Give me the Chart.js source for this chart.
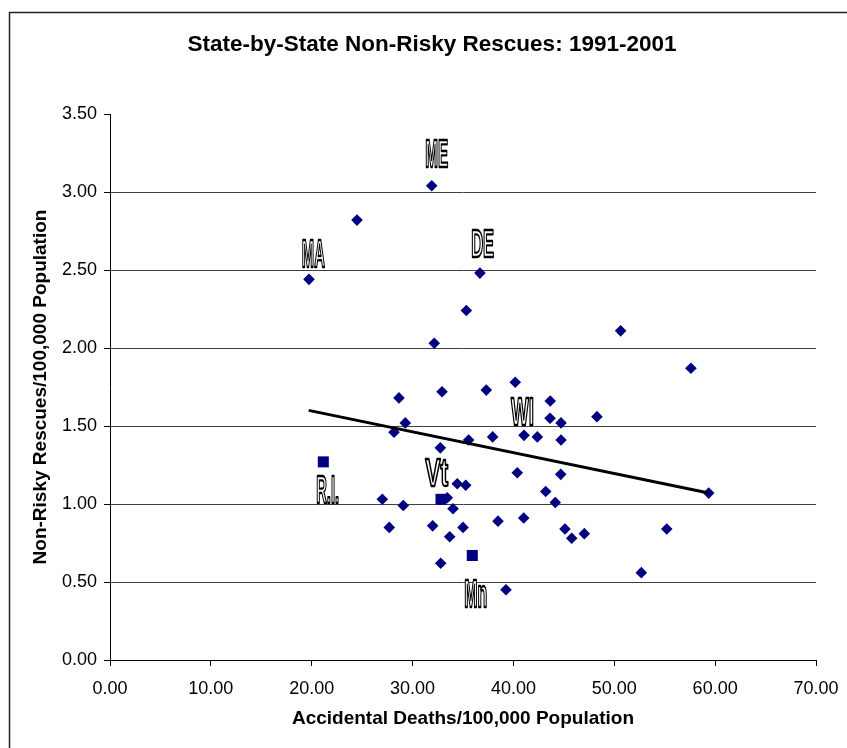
<!DOCTYPE html>
<html lang="en">
<head>
<meta charset="UTF-8">
<title>State-by-State Non-Risky Rescues: 1991-2001</title>
<style>
  html, body { margin: 0; padding: 0; background: #fff; }
  canvas { display: block; }
</style>
</head>
<body>
<canvas id="rescueChart" width="847" height="748"></canvas>

<script src="https://cdn.jsdelivr.net/npm/chart.js"></script>
<script>
  // accidental deaths / 100,000 (x) and non-risky rescues / 100,000 (y), one per state
  var deathRates = [
    19.73, 24.49, 31.90, 36.68, 35.33, 32.15, 50.63, 57.60, 40.18, 28.65,
    32.92, 37.31, 43.65, 29.28, 43.63, 44.72, 48.28, 28.16, 35.56, 37.94,
    41.05, 42.37, 44.72, 32.75, 40.38, 44.69, 34.43, 35.27, 43.20, 27.00,
    29.08, 33.44, 34.01, 44.15, 27.69, 31.99, 35.00, 38.47, 41.02, 33.68,
    45.11, 45.78, 47.03, 32.79, 39.26, 55.20, 52.68, 59.36
  ];
  var rescueRates = [
    2.44, 2.82, 3.04, 2.48, 2.24, 2.03, 2.11, 1.87, 1.78, 1.68,
    1.72, 1.73, 1.66, 1.52, 1.55, 1.52, 1.56, 1.46, 1.41, 1.43,
    1.44, 1.43, 1.41, 1.36, 1.20, 1.19, 1.13, 1.12, 1.08, 1.03,
    0.99, 1.04, 0.97, 1.01, 0.85, 0.86, 0.85, 0.89, 0.91, 0.79,
    0.84, 0.78, 0.81, 0.62, 0.45, 0.84, 0.56, 1.07
  ];

  // R.I., Vt and Mn use square markers
  var squareDeaths = [21.15, 32.82, 35.92];
  var squareRescues = [1.27, 1.03, 0.67];

  // trend line end points
  var trendDeaths = [19.70, 59.36];
  var trendRescues = [1.60, 1.07];

  // state call-outs (centre x, baseline y in data units)
  var labelNames = ['ME', 'MA', 'DE', 'WI', 'Vt', 'R.I.', 'Mn'];
  var labelDeaths = [32.39, 20.16, 36.95, 40.90, 32.39, 21.58, 36.27];
  var labelRescues = [3.16, 2.52, 2.585, 1.506, 1.115, 1.004, 0.342];

  var xTickValues = [0, 10, 20, 30, 40, 50, 60, 70];
  var yTickValues = [0, 0.5, 1, 1.5, 2, 2.5, 3, 3.5];

  var fontFamily = '"Liberation Sans", Arial, sans-serif';

  function toPoints(xs, ys) {
    return xs.map(function (x, i) { return { x: x, y: ys[i] }; });
  }

  var frameAndTitle = {
    id: 'frameAndTitle',
    beforeDraw: function (chart) {
      var ctx = chart.ctx;
      ctx.save();
      ctx.fillStyle = '#fff';
      ctx.fillRect(0, 0, chart.width, chart.height);
      ctx.strokeStyle = '#222';
      ctx.lineWidth = 1.5;
      ctx.beginPath();
      ctx.moveTo(9.5, chart.height);
      ctx.lineTo(9.5, 12.5);
      ctx.lineTo(chart.width, 12.5);
      ctx.stroke();
      ctx.restore();
    },
    afterDraw: function (chart) {
      var ctx = chart.ctx;
      ctx.save();
      ctx.font = 'bold 22.5px ' + fontFamily;
      ctx.fillStyle = '#000';
      ctx.textAlign = 'center';
      ctx.textBaseline = 'middle';
      ctx.fillText('State-by-State Non-Risky Rescues: 1991-2001', 432, 45);
      ctx.restore();
    }
  };

  var stateLabels = {
    id: 'stateLabels',
    afterDatasetsDraw: function (chart) {
      var ctx = chart.ctx;
      var xs = chart.scales.x, ys = chart.scales.y;
      ctx.save();
      ctx.font = 'bold 38px "Liberation Sans Narrow", "Liberation Sans", sans-serif';
      ctx.textAlign = 'center';
      ctx.textBaseline = 'alphabetic';
      labelNames.forEach(function (name, i) {
        var px = xs.getPixelForValue(labelDeaths[i]);
        var py = ys.getPixelForValue(labelRescues[i]);
        var sx = 23 / ctx.measureText(name).width;
        ctx.save();
        ctx.translate(px, py);
        ctx.scale(sx, 1);
        ctx.fillStyle = '#fff';
        ctx.fillText(name, 0, 0);
        ctx.lineWidth = 2.4;
        ctx.lineJoin = 'round';
        ctx.strokeStyle = '#000';
        ctx.strokeText(name, 0, 0);
        ctx.restore();
      });
      ctx.restore();
    }
  };

  new Chart(document.getElementById('rescueChart'), {
    type: 'scatter',
    data: {
      datasets: [
        {
          label: 'Trend',
          data: toPoints(trendDeaths, trendRescues),
          showLine: true,
          borderColor: '#000',
          borderWidth: 3,
          pointRadius: 0
        },
        {
          label: 'Squares',
          data: toPoints(squareDeaths, squareRescues),
          pointStyle: 'rect',
          pointRadius: 7.8,
          borderWidth: 0,
          backgroundColor: '#000080'
        },
        {
          label: 'States',
          data: toPoints(deathRates, rescueRates),
          pointStyle: 'rectRot',
          pointRadius: 5.8,
          borderWidth: 0,
          backgroundColor: '#000080'
        }
      ]
    },
    options: {
      responsive: false,
      animation: false,
      devicePixelRatio: 1,
      layout: { padding: { top: 114, right: 31, bottom: 0, left: 0 } },
      plugins: {
        legend: { display: false },
        tooltip: { enabled: false },
        title: { display: false }
      },
      scales: {
        x: {
          type: 'linear',
          min: 0,
          max: 70,
          afterBuildTicks: function (scale) {
            scale.ticks = xTickValues.map(function (v) { return { value: v }; });
          },
          afterFit: function (scale) {
            scale.height = 88;
            scale.paddingRight = 20;
            scale.paddingLeft = 20;
          },
          border: { color: '#000', width: 1 },
          grid: { drawOnChartArea: false, tickLength: 6, tickColor: '#000' },
          ticks: {
            color: '#000',
            padding: 12,
            maxRotation: 0,
            font: { family: fontFamily, size: 18 },
            callback: function (v) { return v.toFixed(2); }
          },
          title: {
            display: true,
            text: 'Accidental Deaths/100,000 Population',
            color: '#000',
            font: { family: fontFamily, size: 19, weight: 'bold' },
            padding: { top: 0, bottom: 18 }
          }
        },
        y: {
          type: 'linear',
          min: 0,
          max: 3.5,
          afterBuildTicks: function (scale) {
            scale.ticks = yTickValues.map(function (v) { return { value: v }; });
          },
          afterFit: function (scale) { scale.width = 110; },
          border: { color: '#000', width: 1 },
          grid: {
            color: function (c) {
              return c.tick && c.tick.value === 3.5 ? 'rgba(0,0,0,0)' : '#404040';
            },
            tickColor: '#000',
            tickLength: 6
          },
          ticks: {
            color: '#000',
            padding: 7,
            font: { family: fontFamily, size: 18 },
            callback: function (v) { return v.toFixed(2); }
          },
          title: {
            display: true,
            text: 'Non-Risky Rescues/100,000 Population',
            color: '#000',
            font: { family: fontFamily, size: 19, weight: 'bold' },
            padding: { top: 29, bottom: 0 }
          }
        }
      }
    },
    plugins: [frameAndTitle, stateLabels]
  });
</script>
</body>
</html>
